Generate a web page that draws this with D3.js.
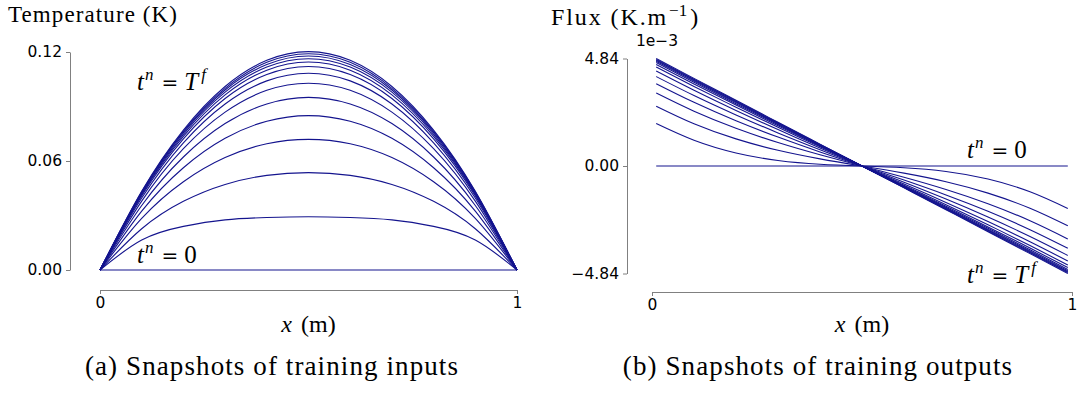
<!DOCTYPE html>
<html>
<head>
<meta charset="utf-8">
<script src="https://cdn.jsdelivr.net/npm/d3@7"></script>
<style>
body { margin: 0; background: #fff; }
svg { display: block; }
.serif { font-family: 'Liberation Serif', serif; fill: #000; white-space: pre; }
</style>
</head>
<body>
<svg id="chart"></svg>
<script>
// x positions of the snapshots (temperature on nodes, flux slightly inside)
const xTemp = [0, 0.1, 0.2, 0.3, 0.4, 0.5, 0.6, 0.7, 0.8, 0.9, 1];
const xFlux = [0.01, 0.1, 0.2, 0.3, 0.4, 0.5, 0.6, 0.7, 0.8, 0.9, 0.99];

// temperature snapshots (K), t^n = 0 first
const tempSnapshots = [
    [0, 0, 0, 0, 0, 0, 0, 0, 0, 0, 0],
    [0, 0.0165, 0.0240, 0.0276, 0.0289, 0.0293, 0.0289, 0.0276, 0.0240, 0.0165, 0],
    [0, 0.0227, 0.0378, 0.0471, 0.0521, 0.0536, 0.0521, 0.0471, 0.0378, 0.0227, 0],
    [0, 0.0284, 0.0486, 0.0619, 0.0695, 0.0719, 0.0695, 0.0619, 0.0486, 0.0284, 0],
    [0, 0.0324, 0.0563, 0.0725, 0.0819, 0.0850, 0.0819, 0.0725, 0.0563, 0.0324, 0],
    [0, 0.0355, 0.0622, 0.0806, 0.0914, 0.0950, 0.0914, 0.0806, 0.0622, 0.0355, 0],
    [0, 0.0379, 0.0668, 0.0869, 0.0989, 0.1028, 0.0989, 0.0869, 0.0668, 0.0379, 0],
    [0, 0.0396, 0.0700, 0.0914, 0.1041, 0.1083, 0.1041, 0.0914, 0.0700, 0.0396, 0],
    [0, 0.0408, 0.0722, 0.0944, 0.1076, 0.1120, 0.1076, 0.0944, 0.0722, 0.0408, 0],
    [0, 0.0416, 0.0736, 0.0964, 0.1100, 0.1145, 0.1100, 0.0964, 0.0736, 0.0416, 0],
    [0, 0.0421, 0.0747, 0.0979, 0.1117, 0.1163, 0.1117, 0.0979, 0.0747, 0.0421, 0],
    [0, 0.0426, 0.0756, 0.0991, 0.1131, 0.1178, 0.1131, 0.0991, 0.0756, 0.0426, 0],
    [0, 0.0430, 0.0763, 0.1000, 0.1143, 0.1190, 0.1143, 0.1000, 0.0763, 0.0430, 0],
    [0, 0.0433, 0.0770, 0.1010, 0.1154, 0.1202, 0.1154, 0.1010, 0.0770, 0.0433, 0]
];

// flux snapshots (x 1e-3 K.m^-1), t^n = 0 first
const fluxSnapshots = [
    [0, 0, 0, 0, 0, 0, 0, 0, 0, 0, 0],
    [1.912, 1.160, 0.587, 0.248, 0.080, 0, -0.080, -0.248, -0.587, -1.160, -1.912],
    [2.694, 1.904, 1.221, 0.708, 0.322, 0, -0.322, -0.708, -1.221, -1.904, -2.694],
    [3.283, 2.465, 1.697, 1.054, 0.503, 0, -0.503, -1.054, -1.697, -2.465, -3.283],
    [3.705, 2.867, 2.039, 1.303, 0.634, 0, -0.634, -1.303, -2.039, -2.867, -3.705],
    [4.026, 3.172, 2.299, 1.491, 0.734, 0, -0.734, -1.491, -2.299, -3.172, -4.026],
    [4.277, 3.411, 2.502, 1.639, 0.811, 0, -0.811, -1.639, -2.502, -3.411, -4.277],
    [4.455, 3.580, 2.646, 1.744, 0.866, 0, -0.866, -1.744, -2.646, -3.580, -4.455],
    [4.574, 3.693, 2.742, 1.813, 0.903, 0, -0.903, -1.813, -2.742, -3.693, -4.574],
    [4.655, 3.770, 2.807, 1.861, 0.928, 0, -0.928, -1.861, -2.807, -3.770, -4.655],
    [4.712, 3.825, 2.854, 1.894, 0.945, 0, -0.945, -1.894, -2.854, -3.825, -4.712],
    [4.760, 3.870, 2.893, 1.923, 0.960, 0, -0.960, -1.923, -2.893, -3.870, -4.760],
    [4.799, 3.907, 2.924, 1.945, 0.973, 0, -0.973, -1.945, -2.924, -3.907, -4.799],
    [4.838, 3.945, 2.956, 1.969, 0.984, 0, -0.984, -1.969, -2.956, -3.945, -4.838]
];

const xTicks = [0, 1];
const tempTicks = [0, 0.06, 0.12];
const fluxTicks = [-4.84, 0, 4.84];

const svg = d3.select('#chart')
    .attr('width', 1081)
    .attr('height', 394);

// t^n = <rhs> annotation in math style
function tLabel(g, x, y, rhs, rhsSup) {
    const t = g.append('text')
        .attr('class', 'serif')
        .attr('x', x)
        .attr('y', y)
        .style('font-size', '25px');
    t.append('tspan').style('font-style', 'italic').text('t');
    t.append('tspan').style('font-style', 'italic').style('font-size', '17px')
        .attr('dx', 1).attr('dy', -10).text('n');
    t.append('tspan').style('font-family', "'DejaVu Serif', serif").style('font-size', '20px')
        .attr('dx', 8).attr('dy', 10).text('=');
    if (rhsSup) {
        t.append('tspan').style('font-style', 'italic').attr('dx', 6).text(rhs);
        t.append('tspan').style('font-style', 'italic').style('font-size', '17px')
            .attr('dx', 3).attr('dy', -10).text(rhsSup);
    } else {
        t.append('tspan').attr('dx', 6).text(rhs);
    }
}

function styleAxis(sel) {
    sel.attr('font-size', null).attr('font-family', null);
    sel.selectAll('.tick text')
        .style('font-family', "'DejaVu Sans', sans-serif")
        .style('font-size', '15.5px')
        .attr('fill', '#000');
    sel.selectAll('.tick line').attr('stroke', '#808080');
    sel.select('.domain').attr('stroke', '#808080');
}

class SnapshotPlot {
    constructor(_config, _xs, _series) {
        this.config = _config;
        this.xs = _xs;
        this.series = _series;
        this.initVis();
    }

    initVis() {
        let vis = this;
        const c = vis.config;

        vis.g = svg.append('g');

        vis.x = d3.scaleLinear().domain([0, 1]).range(c.xRange);
        vis.y = d3.scaleLinear().domain(c.yDomain).range(c.yRange);

        // left spine
        vis.g.append('g')
            .attr('transform', `translate(${c.yAxisX},0)`)
            .call(d3.axisLeft(vis.y)
                .tickValues(c.yTicks)
                .tickFormat(d3.format('.2f'))
                .tickSize(4)
                .tickSizeOuter(0)
                .tickPadding(4))
            .call(styleAxis);

        // detached bottom spine
        vis.g.append('g')
            .attr('transform', `translate(0,${c.xAxisY})`)
            .call(d3.axisBottom(vis.x)
                .tickValues(xTicks)
                .tickFormat(d3.format('d'))
                .tickSize(4)
                .tickSizeOuter(0)
                .tickPadding(3))
            .call(styleAxis);

        vis.line = d3.line()
            .x((d, i) => vis.x(vis.xs[i]))
            .y(d => vis.y(d))
            .curve(d3.curveNatural);

        vis.g.selectAll('.snap')
            .data(vis.series)
            .join('path')
            .attr('class', 'snap')
            .attr('fill', 'none')
            .attr('stroke', '#14148e')
            .attr('stroke-width', 1.1)
            .attr('d', vis.line);

        // x label
        const xl = vis.g.append('text')
            .attr('class', 'serif')
            .attr('x', (c.xRange[0] + c.xRange[1]) / 2)
            .attr('y', 332)
            .attr('text-anchor', 'middle')
            .style('font-size', '24px');
        xl.append('tspan').style('font-style', 'italic').text('x');
        xl.append('tspan').attr('dx', 3).text(' (m)');

        // caption
        vis.g.append('text')
            .attr('class', 'serif')
            .attr('x', c.captionX)
            .attr('y', 375)
            .attr('text-anchor', 'middle')
            .style('font-size', '27px')
            .style('letter-spacing', '1.1px')
            .text(c.caption);
    }
}

const tempPlot = new SnapshotPlot({
    xRange: [100, 517],
    yDomain: [0, 0.12],
    yRange: [270, 52],
    yTicks: tempTicks,
    yAxisX: 70,
    xAxisY: 290,
    captionX: 272,
    caption: '(a) Snapshots of training inputs'
}, xTemp, tempSnapshots);

const fluxPlot = new SnapshotPlot({
    xRange: [652, 1072],
    yDomain: [-4.84, 4.84],
    yRange: [273.5, 58.5],
    yTicks: fluxTicks,
    yAxisX: 627,
    xAxisY: 292,
    captionX: 818,
    caption: '(b) Snapshots of training outputs'
}, xFlux, fluxSnapshots);

// panel titles
svg.append('text')
    .attr('class', 'serif')
    .attr('x', 8)
    .attr('y', 22)
    .style('font-size', '23px')
    .style('letter-spacing', '1.1px')
    .text('Temperature (K)');

const fluxTitle = svg.append('text')
    .attr('class', 'serif')
    .attr('x', 551)
    .attr('y', 25)
    .style('font-size', '24px');
fluxTitle.append('tspan').style('letter-spacing', '1.9px').text('Flux (K.m');
fluxTitle.append('tspan').style('font-size', '17px').attr('dx', 1).attr('dy', -9).text('\u22121');
fluxTitle.append('tspan').attr('dx', 3).attr('dy', 9).text(')');

// offset text of the flux axis
svg.append('text')
    .attr('x', 657)
    .attr('y', 46)
    .attr('text-anchor', 'middle')
    .style('font-family', "'DejaVu Sans', sans-serif")
    .style('font-size', '15.5px')
    .text('1e\u22123');

// snapshot annotations
tLabel(svg, 137, 90, 'T', 'f');
tLabel(svg, 137, 263, '0');
tLabel(svg, 967, 158, '0');
tLabel(svg, 967, 283, 'T', 'f');
</script>
</body>
</html>
